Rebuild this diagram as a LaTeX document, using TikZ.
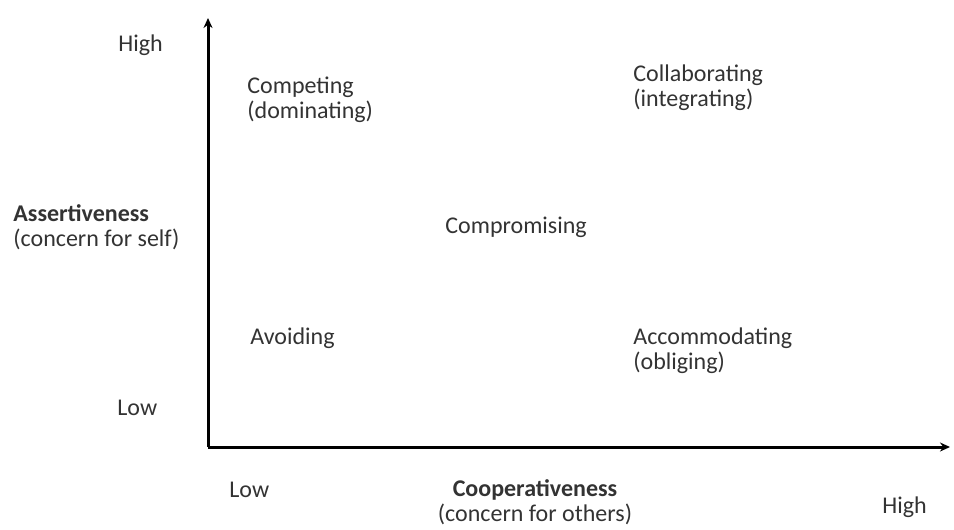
\documentclass[tikz,border=0pt]{standalone}
\usepackage{fontspec}
\setmainfont{Carlito}
\usepackage{tikz}
\usetikzlibrary{arrows.meta,positioning}

\begin{document}
\begin{tikzpicture}[
  x=0.5pt, y=-0.5pt,
  font=\fontsize{12}{12.5}\selectfont,
  lbl/.style={inner sep=0pt, anchor=west, align=left, text=black!80},
  axis/.style={line width=1.5pt, -{Stealth[length=5pt,width=4.5pt]}}
]
\useasboundingbox (0,0) rectangle (954,530);

% axes
\coordinate (origin) at (208,447);
\coordinate (ytop) at (208,18);
\coordinate (xend) at (950,447);
\draw[axis] (origin) -- (ytop);
\draw[axis] (origin) -- (xend);

% vertical axis
\node[lbl] (yhigh) at (118,45) {High};
\node[lbl] (ylow) at (117,408) {Low};
\node[lbl] (ytitle) at (13,227.5) {\textbf{Assertiveness}\\(concern for self)};

% horizontal axis
\node[lbl] (xlow) at (229,490) {Low};
\node[lbl, anchor=center, align=center] (xtitle) at (535,502.5) {\textbf{Cooperativeness}\\(concern for others)};
\node[lbl] (xhigh) at (882,507) {High};

% styles
\node[lbl] (competing) at (247,100) {Competing\\(dominating)};
\node[lbl] (collab) at (633,87.5) {Collaborating\\(integrating)};
\node[lbl] (compromise) at (445,227) {Compromising};
\node[lbl] (avoiding) at (250,338) {Avoiding};
\node[lbl] (accom) at (633,350.5) {Accommodating\\(obliging)};
\end{tikzpicture}
\end{document}
